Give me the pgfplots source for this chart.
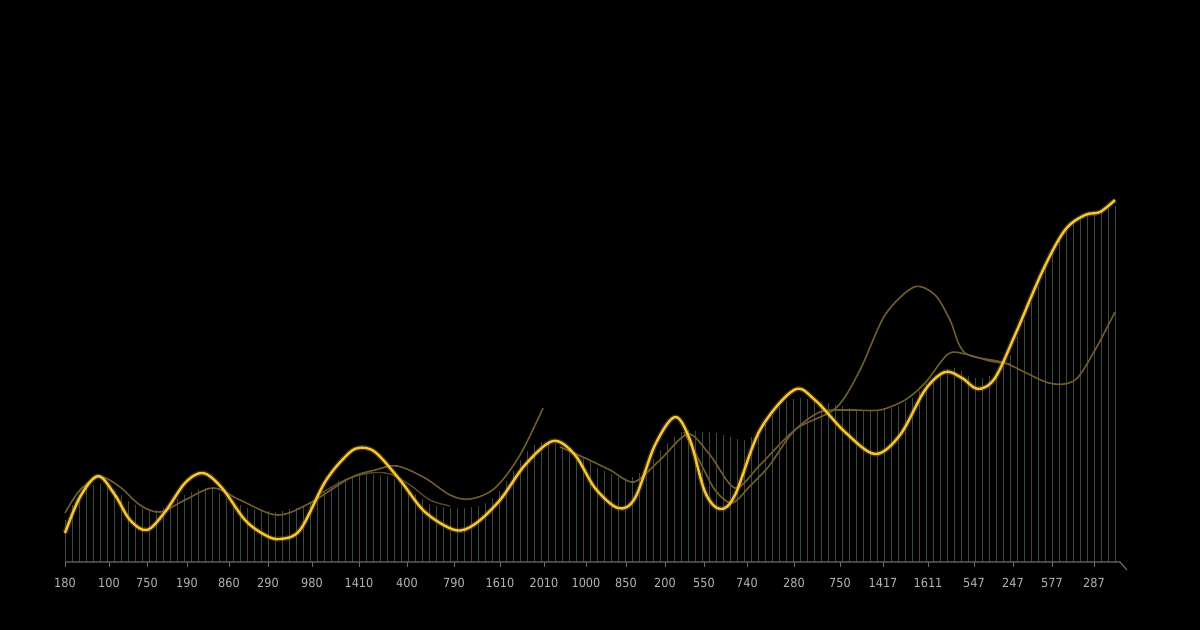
\documentclass[border=0pt]{standalone}
\usepackage{pgfplots}
\pgfplotsset{compat=1.18}
\usepackage{fontspec}
\setmainfont{DejaVu Sans Condensed}
\definecolor{gold}{HTML}{F5C63C}
\definecolor{goldglow}{HTML}{8A6A10}
\definecolor{brownline}{HTML}{6E5C2C}
\definecolor{barcol}{HTML}{3F4742}
\definecolor{axcol}{HTML}{6A6A6A}
\definecolor{labcol}{HTML}{B4B4B4}
\begin{document}
\begin{tikzpicture}
\fill[black] (0,0) rectangle (600bp,315bp);
\begin{axis}[
  at={(0,0)}, anchor=south west,
  scale only axis, width=600bp, height=315bp,
  xmin=0, xmax=1200, ymin=-68, ymax=562,
  axis x line*=middle, axis y line=none,
  x axis line style={draw=none},
  xtick={65,109,147,187,229,268,312,359,407,454,500,544,586,626,665,704,747,794,840,883,928,974,1013,1052,1094},
  xticklabels={180,100,750,190,860,290,980,1410,400,790,1610,2010,1000,850,200,550,740,280,750,1417,1611,547,247,577,287},
  xtick align=outside,
  major tick length=2.5bp,
  x tick style={axcol, line width=0.5bp},
  x tick label style={font=\fontsize{6.3}{7}\selectfont, text=labcol, yshift=-2.2bp},
  /pgf/number format/assume math mode=true,
  clip=false,
]
% vertical bars
\addplot[ycomb, barcol, line width=0.5bp, mark=none] table {
x y
65 42
72 57
79 67
86 73
93 77
100 78
107 76
114 72
121 67
128 61
135 57
142 54
149 53
156 52
163 54
170 58
177 63
184 67
191 70
198 73
205 74
212 73
219 69
226 64
233 60
240 57
247 54
254 52
261 51
268 51
275 50
282 51
289 53
296 54
303 56
310 60
317 65
324 70
331 75
338 81
345 84
352 86
359 87
366 88
373 88
380 87
387 86
394 83
401 79
408 73
415 68
422 63
429 58
436 56
443 55
450 54
457 54
464 54
471 55
478 56
485 59
492 64
499 71
506 81
513 91
520 102
527 111
534 117
541 120
548 120
555 119
562 116
569 113
576 109
583 105
590 100
597 94
604 91
611 88
618 85
625 84
632 85
639 89
646 96
653 103
660 112
667 119
674 125
681 130
688 132
695 131
702 130
709 130
716 129
723 127
730 125
737 123
744 122
751 125
758 130
765 138
772 147
779 156
786 161
793 163
800 164
807 163
814 161
821 160
828 159
835 157
842 156
849 154
856 153
863 152
870 152
877 152
884 153
891 154
898 156
905 160
912 164
919 171
926 178
933 184
940 190
947 193
954 194
961 191
968 186
975 184
982 184
989 186
996 191
1003 197
1010 207
1017 225
1024 242
1031 259
1038 276
1045 294
1052 311
1059 325
1066 335
1073 342
1080 346
1087 349
1094 351
1101 352
1108 354
1115 356
};
% brown lines
\addplot[brownline, line width=0.8bp, smooth, tension=0.55] table {
x y
65 49
80 72
100 85
120 75
140 57
160 50
185 62
213 74
240 62
277 47
310 59
350 84
375 92
397 96
425 84
450 67
470 63
495 74
520 107
543 154
};
\addplot[brownline, line width=0.7bp, smooth, tension=0.55, opacity=0.8] table {
x y
320 68
345 82
370 89
390 88
410 77
430 62
450 56
};
\addplot[brownline, line width=0.8bp, smooth, tension=0.5] table {
x y
560 115
585 104
610 92
634 80
660 102
688 128
710 107
735 74
760 97
796 133
836 154
860 192
885 247
914 275
935 267
950 242
965 209
1005 199
1049 179
1075 182
1095 212
1115 250
};
\addplot[brownline, line width=0.8bp, smooth, tension=0.5] table {
x y
684 130
700 100
715 72
732 59
750 76
769 96
793 130
820 150
850 152
880 152
905 162
925 179
948 208
965 208
990 201
1010 198
};
% yellow glow + line
\addplot[goldglow, line width=2.6bp, opacity=0.4, smooth, tension=0.55] table {
x y
65 29
80 65
98 86
115 67
130 42
147 32
165 50
185 79
203 89
222 74
245 42
265 27
280 23
300 32
325 80
345 105
358 114
375 110
400 82
425 50
455 32
475 38
500 62
525 97
553 121
575 107
595 74
618 54
635 64
655 117
675 145
690 122
705 70
720 53
735 67
760 132
794 172
815 162
845 130
875 108
900 127
925 172
945 190
962 184
978 173
995 184
1015 227
1043 292
1065 332
1085 347
1100 350
1115 362
};
\addplot[gold, line width=1.2bp, smooth, tension=0.55] table {
x y
65 29
80 65
98 86
115 67
130 42
147 32
165 50
185 79
203 89
222 74
245 42
265 27
280 23
300 32
325 80
345 105
358 114
375 110
400 82
425 50
455 32
475 38
500 62
525 97
553 121
575 107
595 74
618 54
635 64
655 117
675 145
690 122
705 70
720 53
735 67
760 132
794 172
815 162
845 130
875 108
900 127
925 172
945 190
962 184
978 173
995 184
1015 227
1043 292
1065 332
1085 347
1100 350
1115 362
};
\draw[axcol, line width=0.6bp] (axis cs:65,0) -- (axis cs:1120,0) -- (axis cs:1127,-8);
\end{axis}
\end{tikzpicture}
\end{document}
